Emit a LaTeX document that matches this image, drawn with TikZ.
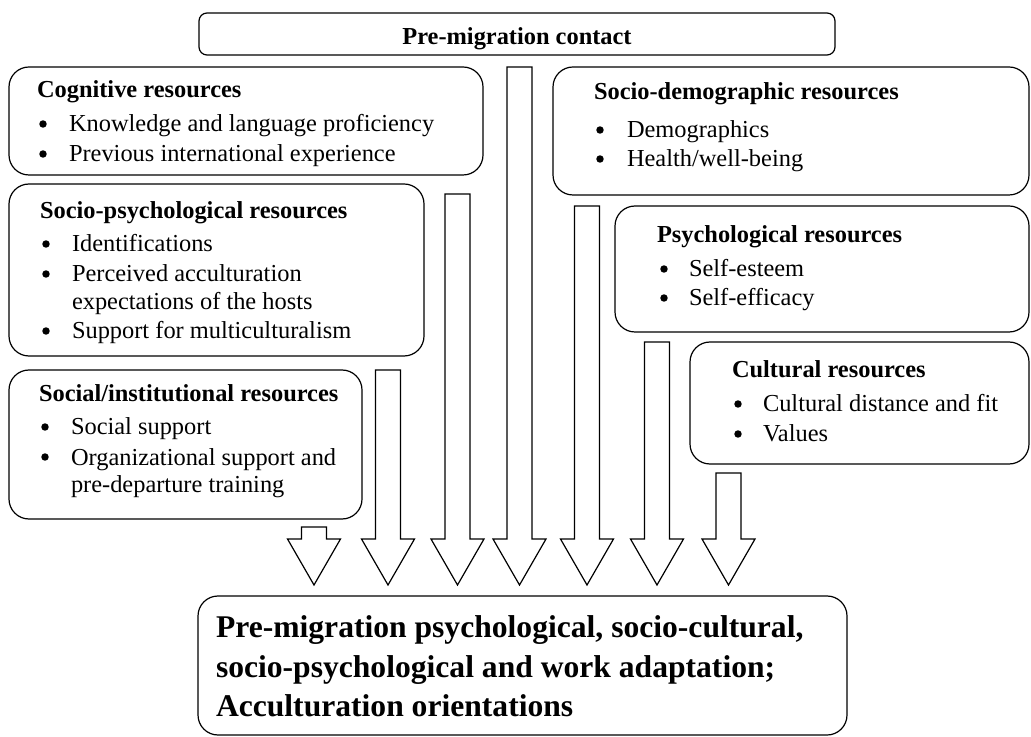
\documentclass[tikz,border=0pt]{standalone}
\usepackage{fontspec}
\setmainfont{Liberation Serif}
\begin{document}
\begin{tikzpicture}[x=0.75pt,y=-0.75pt,
  box/.style={draw, line width=0.9pt, rounded corners=15pt, inner sep=0pt, outer sep=0pt, anchor=north west},
  smallbox/.style={box, rounded corners=6pt},
  txt/.style={inner sep=0pt, outer sep=0pt, font=\fontsize{18.3}{22}\selectfont},
  head/.style={txt, font=\fontsize{18.3}{22}\selectfont\bfseries, anchor=base west},
  line/.style={txt, anchor=base west},
  bullet/.style={circle, fill, inner sep=0pt, outer sep=0pt, minimum size=5.6pt},
  big/.style={inner sep=0pt, outer sep=0pt, anchor=base west, font=\fontsize{23.7}{29.6}\selectfont\bfseries},
  arrowbody/.style={draw, fill=white, line width=0.9pt, line join=miter}]
\useasboundingbox (0,0) rectangle (1031,737);

% a bulleted line: name, bullet x, text x, baseline, text
\newcommand\bitem[5]{%
  \node[bullet] (#1b) at (#2,#4-8) {};
  \node[line] (#1) at (#3,#4) {#5};}

% hollow block arrow pointing down: centre x, top of the shaft
\newcommand\blockarrow[2]{%
  \draw[arrowbody] (#1-12.5,#2) -- (#1+12.5,#2) -- (#1+12.5,539) -- (#1+26.5,539)
    -- (#1,585) -- (#1-26.5,539) -- (#1-12.5,539) -- cycle;}

% boxes
\node[smallbox, minimum width=477pt, minimum height=31.5pt] (contact) at (199,13) {};
\node[box, minimum width=355.5pt, minimum height=81pt] (cog) at (9,67) {};
\node[box, minimum width=357pt, minimum height=96pt] (demo) at (553,67) {};
\node[box, minimum width=311.25pt, minimum height=129pt] (sopsy) at (9,184) {};
\node[box, minimum width=264.75pt, minimum height=111.75pt] (social) at (9,370) {};
\node[box, minimum width=310.5pt, minimum height=94.5pt] (psy) at (615,206) {};
\node[box, minimum width=254.25pt, minimum height=91.5pt] (cult) at (690,342) {};
\node[box, minimum width=486.75pt, minimum height=104.25pt] (outcome) at (198,596) {};

% block arrows into the outcome box
\blockarrow{314}{527}
\blockarrow{388}{370}
\blockarrow{457.5}{194}
\blockarrow{519.5}{67}
\blockarrow{587}{206}
\blockarrow{657}{342}
\blockarrow{728.5}{473}

% top box
\node[txt, font=\fontsize{18.3}{22}\selectfont\bfseries, anchor=base] (contactT) at (517,45) {Pre-migration contact};

% cognitive resources
\node[head] (cogH) at (37,98) {Cognitive resources};
\bitem{cog1}{43}{69}{132}{Knowledge and language proficiency}
\bitem{cog2}{43}{69}{162}{Previous international experience}

% socio-demographic resources
\node[head] (demoH) at (594,100) {Socio-demographic resources};
\bitem{demo1}{600}{627}{138}{Demographics}
\bitem{demo2}{600}{627}{167}{Health/well-being}

% socio-psychological resources
\node[head] (sopsyH) at (40,219) {Socio-psychological resources};
\bitem{sopsy1}{46}{72}{252}{Identifications}
\bitem{sopsy2}{46}{72}{282}{Perceived acculturation}
\node[line] (sopsy2b2) at (72,310) {expectations of the hosts};
\bitem{sopsy3}{46}{72}{339}{Support for multiculturalism}

% social/institutional resources
\node[head] (socialH) at (39,402) {Social/institutional resources};
\bitem{social1}{45}{71}{435}{Social support}
\bitem{social2}{45}{71}{465}{Organizational support and}
\node[line] (social2b2) at (71,493) {pre-departure training};

% psychological resources
\node[head] (psyH) at (657,243) {Psychological resources};
\bitem{psy1}{664}{689}{277}{Self-esteem}
\bitem{psy2}{664}{689}{306}{Self-efficacy}

% cultural resources
\node[head] (cultH) at (732,378) {Cultural resources};
\bitem{cult1}{738}{763}{412}{Cultural distance and fit}
\bitem{cult2}{738}{763}{442}{Values}

% outcome box
\node[big] (out1) at (216,637) {Pre-migration psychological, socio-cultural,};
\node[big] (out2) at (216,677) {socio-psychological and work adaptation;};
\node[big] (out3) at (216,716) {Acculturation orientations};
\end{tikzpicture}
\end{document}
